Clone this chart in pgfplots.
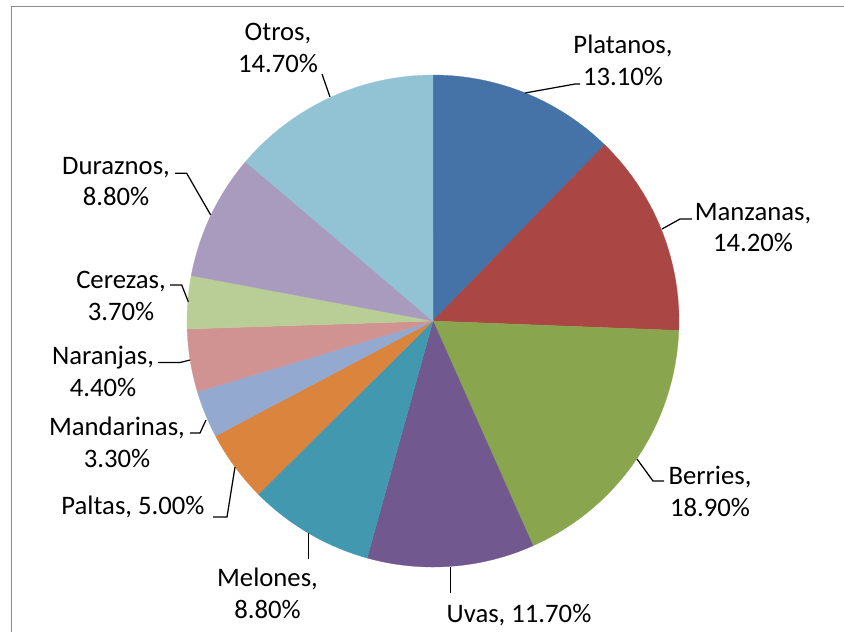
\documentclass[border=0pt]{standalone}
\usepackage{pgfplots}
\pgfplotsset{compat=1.18}
\usepackage{pgfplotstable}
\usepackage{fontspec}
\setmainfont{Carlito}

\definecolor{c0}{HTML}{4572A7}
\definecolor{c1}{HTML}{AA4643}
\definecolor{c2}{HTML}{89A54E}
\definecolor{c3}{HTML}{71588F}
\definecolor{c4}{HTML}{4198AF}
\definecolor{c5}{HTML}{DB843D}
\definecolor{c6}{HTML}{93A9CF}
\definecolor{c7}{HTML}{D19392}
\definecolor{c8}{HTML}{B9CD96}
\definecolor{c9}{HTML}{A99BBD}
\definecolor{c10}{HTML}{92C3D4}
\definecolor{framegray}{HTML}{8C8C8C}

\pgfplotstableread{
name value
Platanos 13.1
Manzanas 14.2
Berries 18.9
Uvas 11.7
Melones 8.8
Paltas 5.0
Mandarinas 3.3
Naranjas 4.4
Cerezas 3.7
Duraznos 8.8
Otros 14.7
}\fruitdata

% cumulative sums -> start/end angles (clockwise from 12 o'clock)
\def\cum{0}
\pgfplotsforeachungrouped \i in {0,...,10}{%
  \pgfplotstablegetelem{\i}{value}\of\fruitdata
  \pgfmathsetmacro\tmpcum{\cum+\pgfplotsretval}%
  \global\let\cum\tmpcum
}
\let\total\cum
\def\cum{0}
\pgfplotsforeachungrouped \i in {0,...,10}{%
  \pgfplotstablegetelem{\i}{value}\of\fruitdata
  \pgfmathsetmacro\sa{\cum/\total*360}%
  \pgfmathsetmacro\tmpcum{\cum+\pgfplotsretval}%
  \global\let\cum\tmpcum
  \pgfmathsetmacro\sb{\cum/\total*360}%
  \expandafter\xdef\csname sa\i\endcsname{\sa}%
  \expandafter\xdef\csname sb\i\endcsname{\sb}%
}

\begin{document}
\begin{tikzpicture}
\begin{axis}[
  scale only axis,
  width=12cm, height=8.9858cm,
  xmin=0, xmax=844, ymin=0, ymax=632,
  y dir=reverse,
  hide axis,
  clip=false,
]
\pgfplotsforeachungrouped \i in {0,...,10}{%
  \edef\doplot{\noexpand\addplot[draw=c\i, line width=0.1pt, fill=c\i,
     domain=\csname sa\i\endcsname:\csname sb\i\endcsname, samples=60,
     variable=\noexpand\t]
     ({433+246*sin(\noexpand\t)}, {321-246*cos(\noexpand\t)}) -- (axis cs:433,321) -- cycle;}%
  \doplot
}
% frame
\draw[framegray, line width=0.6pt] (axis cs:11.5,632) -- (axis cs:11.5,6.5) -- (axis cs:844,6.5);
% leader lines
\begin{scope}[black, line width=0.5pt]
\draw (axis cs:322,74) -- (axis cs:330,97);
\draw (axis cs:525,93) -- (axis cs:575,84) -- (axis cs:580,84);
\draw (axis cs:662,229) -- (axis cs:680,219) -- (axis cs:692,219);
\draw (axis cs:637,459) -- (axis cs:653,481) -- (axis cs:664,481);
\draw (axis cs:450.7,567) -- (axis cs:450.7,593);
\draw (axis cs:308.3,533) -- (axis cs:308.3,559);
\draw (axis cs:235,467) -- (axis cs:227,517) -- (axis cs:213,517);
\draw (axis cs:206,420) -- (axis cs:200,433) -- (axis cs:190,433);
\draw (axis cs:190,360) -- (axis cs:180,362.5) -- (axis cs:158,362.5);
\draw (axis cs:188.3,301.7) -- (axis cs:181.7,285) -- (axis cs:170,285);
\draw (axis cs:210.7,215) -- (axis cs:186.7,173.3) -- (axis cs:175,173.3);
\end{scope}
% labels
\begin{scope}[every node/.style={font=\fontsize{10.8}{12.9}\selectfont, align=center, inner sep=0pt, text=black}]
\node at (axis cs:278,47.5) {Otros,\\14.70\%};
\node at (axis cs:623,60.5) {Platanos,\\13.10\%};
\node at (axis cs:753,227.5) {Manzanas,\\14.20\%};
\node at (axis cs:710,491) {Berries,\\18.90\%};
\node at (axis cs:519,615) {Uvas, 11.70\%};
\node at (axis cs:267.5,593.5) {Melones,\\8.80\%};
\node at (axis cs:133,507) {Paltas, 5.00\%};
\node at (axis cs:117,442) {Mandarinas,\\3.30\%};
\node at (axis cs:103,371.5) {Naranjas,\\4.40\%};
\node at (axis cs:121,295.5) {Cerezas,\\3.70\%};
\node at (axis cs:116,181.5) {Duraznos,\\8.80\%};
\end{scope}
\end{axis}
\pgfresetboundingbox
\path[use as bounding box] (0,0) rectangle (12cm,8.9858cm);
\end{tikzpicture}
\end{document}
